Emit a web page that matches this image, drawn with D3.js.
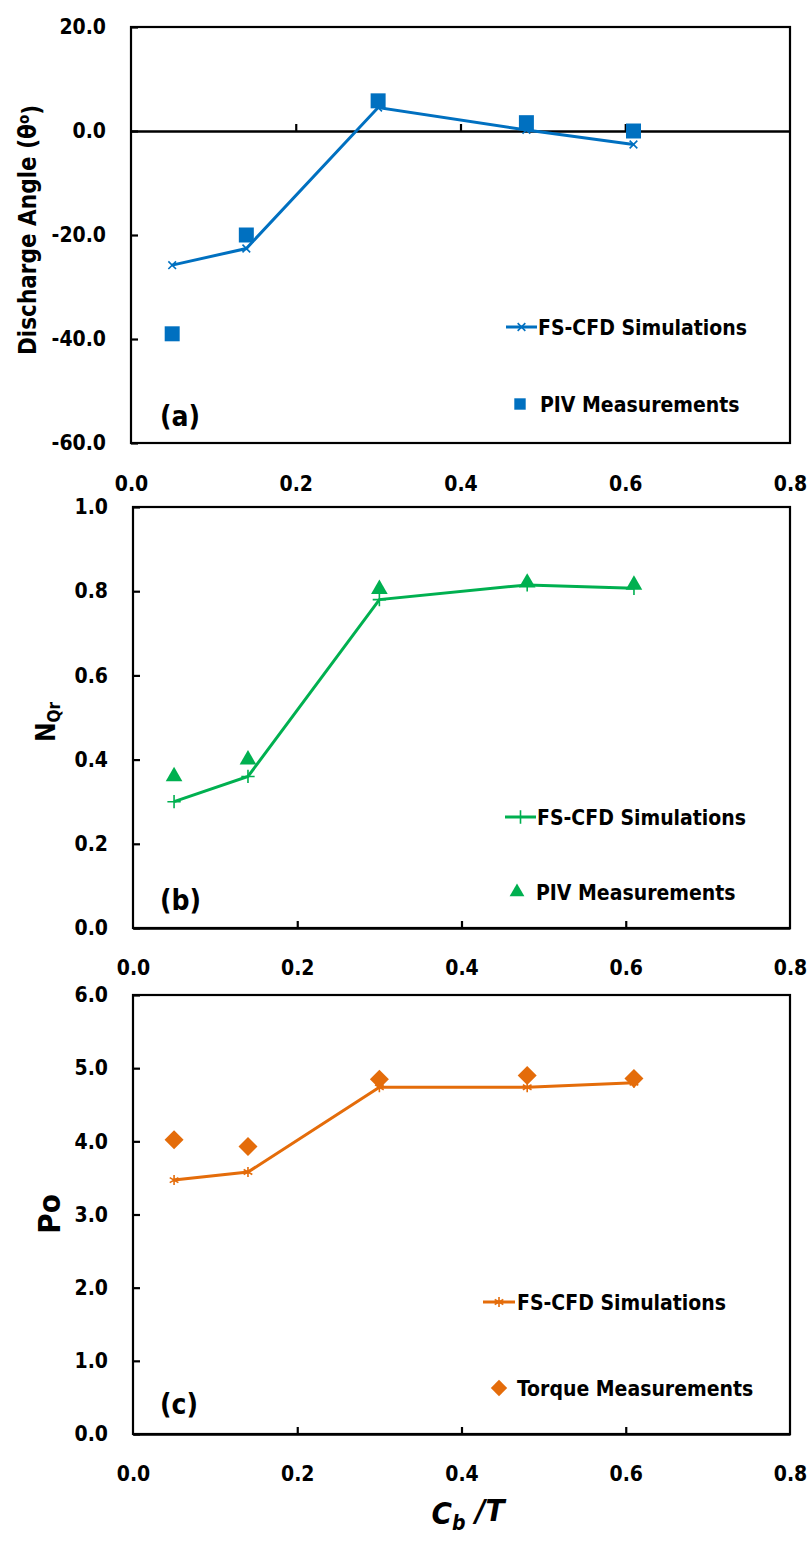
<!DOCTYPE html>
<html>
<head>
<meta charset="utf-8">
<script src="https://cdn.jsdelivr.net/npm/d3@7"></script>
<style>
  body { margin: 0; background: #fff; }
  text { font-family: 'DejaVu Sans Condensed', 'DejaVu Sans', sans-serif; font-stretch: condensed; font-weight: bold; fill: #000; }
</style>
</head>
<body>
<svg id="chart" width="809" height="1542"></svg>
<script>
// C_b/T positions shared by every panel
var cbT = [0.05, 0.14, 0.30, 0.48, 0.61];

// (a) discharge angle
var angleCFD = [-25.8, -22.6, 4.5, 0.2, -2.6];
var anglePIV = [-39.0, -20.0, 5.8, 1.6, 0.0];

// (b) N_Qr
var nqrCFD = [0.30, 0.36, 0.78, 0.815, 0.807];
var nqrPIV = [0.36, 0.40, 0.805, 0.82, 0.815];

// (c) power number
var poCFD = [3.47, 3.58, 4.74, 4.74, 4.80];
var poTorque = [4.02, 3.93, 4.85, 4.90, 4.86];

var xTicks = [0, 0.2, 0.4, 0.6, 0.8];
var yTicksA = [-60, -40, -20, 0, 20];
var yTicksB = [0, 0.2, 0.4, 0.6, 0.8, 1.0];
var yTicksC = [0, 1, 2, 3, 4, 5, 6];

var svg = d3.select('#chart');
var fmt = function(d) { return d.toFixed(1); };  // plain hyphen, like Excel
var FS = '21px';

function drawPanel(p) {
  var x = d3.scaleLinear().domain([0, 0.8]).range([p.left, p.right]);
  var y = d3.scaleLinear().domain(p.yDomain).range([p.bottom, p.top]);
  var g = svg.append('g');

  // frame
  g.append('rect')
      .attr('x', p.left).attr('y', p.top)
      .attr('width', p.right - p.left).attr('height', p.bottom - p.top)
      .attr('fill', 'none').attr('stroke', '#000').attr('stroke-width', 2.2);

  // y ticks (inside) + labels
  var yAxis = g.append('g')
      .attr('transform', 'translate(' + p.left + ',0)')
      .call(d3.axisLeft(y).tickValues(p.yTicks).tickSize(-7).tickPadding(25).tickFormat(fmt));
  yAxis.select('.domain').remove();
  yAxis.selectAll('line').attr('stroke-width', 2.2);
  yAxis.selectAll('text').style('font-size', FS).attr('fill', '#000');

  // x ticks on the crossing line (zero line for panel a)
  var xAxis = g.append('g')
      .attr('transform', 'translate(0,' + y(p.cross) + ')')
      .call(d3.axisBottom(x).tickValues([0.2, 0.4, 0.6]).tickSize(-7).tickFormat('').tickSizeOuter(0));
  xAxis.select('.domain').attr('stroke-width', 2.6);
  xAxis.selectAll('line').attr('stroke-width', 2.2);

  // x labels, always at the bottom
  var xLab = g.append('g')
      .attr('transform', 'translate(0,' + p.bottom + ')')
      .call(d3.axisBottom(x).tickValues(xTicks).tickSize(0).tickPadding(p.labelPad).tickFormat(fmt));
  xLab.select('.domain').remove();
  xLab.selectAll('text').style('font-size', FS).attr('fill', '#000');

  // CFD line + markers
  var pts = cbT.map(function(d, i) { return [d, p.cfd[i]]; });
  g.append('path')
      .datum(pts)
      .attr('fill', 'none')
      .attr('stroke', p.color)
      .attr('stroke-width', 3)
      .attr('d', d3.line().x(function(d) { return x(d[0]); }).y(function(d) { return y(d[1]); }));
  g.selectAll('.cfdmark')
      .data(pts)
    .enter().append('path')
      .attr('class', 'cfdmark')
      .attr('transform', function(d) { return 'translate(' + x(d[0]) + ',' + y(d[1]) + ')'; })
      .attr('d', d3.symbol().type(p.lineSym).size(p.lineSymSize))
      .attr('fill', 'none').attr('stroke', p.color).attr('stroke-width', 1.6);

  // measurements
  var meas = cbT.map(function(d, i) { return [d, p.meas[i]]; });
  g.selectAll('.measmark')
      .data(meas)
    .enter().append('path')
      .attr('class', 'measmark')
      .attr('transform', function(d) { return 'translate(' + x(d[0]) + ',' + y(d[1]) + ')'; })
      .attr('d', d3.symbol().type(p.measSym).size(p.measSize))
      .attr('fill', p.color);

  // legend
  var lg = p.legend;
  g.append('line')
      .attr('x1', lg.lx1).attr('x2', lg.lx2).attr('y1', lg.ly).attr('y2', lg.ly)
      .attr('stroke', p.color).attr('stroke-width', 3);
  g.append('path')
      .attr('transform', 'translate(' + (lg.lx1 + lg.lx2) / 2 + ',' + lg.ly + ')')
      .attr('d', d3.symbol().type(p.lineSym).size(p.lineSymSize))
      .attr('fill', 'none').attr('stroke', p.color).attr('stroke-width', 1.6);
  g.append('text')
      .attr('x', lg.tx1).attr('y', lg.ly).attr('dy', '0.36em')
      .style('font-size', FS)
      .text('FS-CFD Simulations');
  g.append('path')
      .attr('transform', 'translate(' + lg.mx + ',' + lg.my + ')')
      .attr('d', d3.symbol().type(p.measSym).size(lg.mSize))
      .attr('fill', p.color);
  g.append('text')
      .attr('x', lg.tx2).attr('y', lg.my).attr('dy', '0.36em')
      .style('font-size', FS)
      .text(p.measName);

  // panel tag
  g.append('text')
      .attr('x', 160).attr('y', p.tagY)
      .style('font-size', '28px')
      .text(p.tag);

  return g;
}

var gA = drawPanel({
  left: 131, right: 790, top: 27, bottom: 443, yDomain: [-60, 20], yTicks: yTicksA, cross: 0,
  labelPad: 33, color: '#0070C0', cfd: angleCFD, meas: anglePIV,
  lineSym: d3.symbolTimes, lineSymSize: 40, measSym: d3.symbolSquare, measSize: 225,
  measName: 'PIV Measurements', tag: '(a)', tagY: 426,
  legend: { lx1: 506, lx2: 537, ly: 327, tx1: 538, mx: 520, my: 404, mSize: 130, tx2: 540 }
});
var gB = drawPanel({
  left: 133, right: 790, top: 507, bottom: 928, yDomain: [0, 1], yTicks: yTicksB, cross: 0,
  labelPad: 32, color: '#00B050', cfd: nqrCFD, meas: nqrPIV,
  lineSym: d3.symbolPlus, lineSymSize: 60, measSym: d3.symbolTriangle, measSize: 120,
  measName: 'PIV Measurements', tag: '(b)', tagY: 910,
  legend: { lx1: 505, lx2: 536, ly: 817, tx1: 537, mx: 517, my: 892, mSize: 95, tx2: 536 }
});
var gC = drawPanel({
  left: 133, right: 790, top: 995, bottom: 1434, yDomain: [0, 6], yTicks: yTicksC, cross: 0,
  labelPad: 32, color: '#E46C0A', cfd: poCFD, meas: poTorque,
  lineSym: d3.symbolAsterisk, lineSymSize: 70, measSym: d3.symbolDiamond2, measSize: 230,
  measName: 'Torque Measurements', tag: '(c)', tagY: 1414,
  legend: { lx1: 483, lx2: 515, ly: 1302, tx1: 517, mx: 499, my: 1388, mSize: 170, tx2: 517 }
});

// axis titles
var da = svg.append('text')
    .attr('transform', 'translate(36,230) rotate(-90)')
    .attr('text-anchor', 'middle')
    .style('font-size', '24px');
da.append('tspan').text('Discharge Angle (θ');
da.append('tspan').attr('dy', '-0.45em').style('font-size', '15px').text('o');
da.append('tspan').attr('dy', '0.45em').text(')');

var nq = svg.append('text')
    .attr('transform', 'translate(55,722) rotate(-90)')
    .attr('text-anchor', 'middle')
    .style('font-size', '26px');
nq.append('tspan').text('N');
nq.append('tspan').attr('dy', '0.3em').style('font-size', '17px').text('Qr');

svg.append('text')
    .attr('transform', 'translate(60,1214) rotate(-90)')
    .attr('text-anchor', 'middle')
    .style('font-size', '31px')
    .text('Po');

var xt = svg.append('text')
    .attr('x', 468).attr('y', 1524)
    .attr('text-anchor', 'middle')
    .style('font-size', '31px').style('font-style', 'italic');
xt.append('tspan').text('C');
xt.append('tspan').attr('dy', '0.28em').style('font-size', '21px').text('b');
xt.append('tspan').attr('dy', '-0.28em').text(' /T');
</script>
</body>
</html>
